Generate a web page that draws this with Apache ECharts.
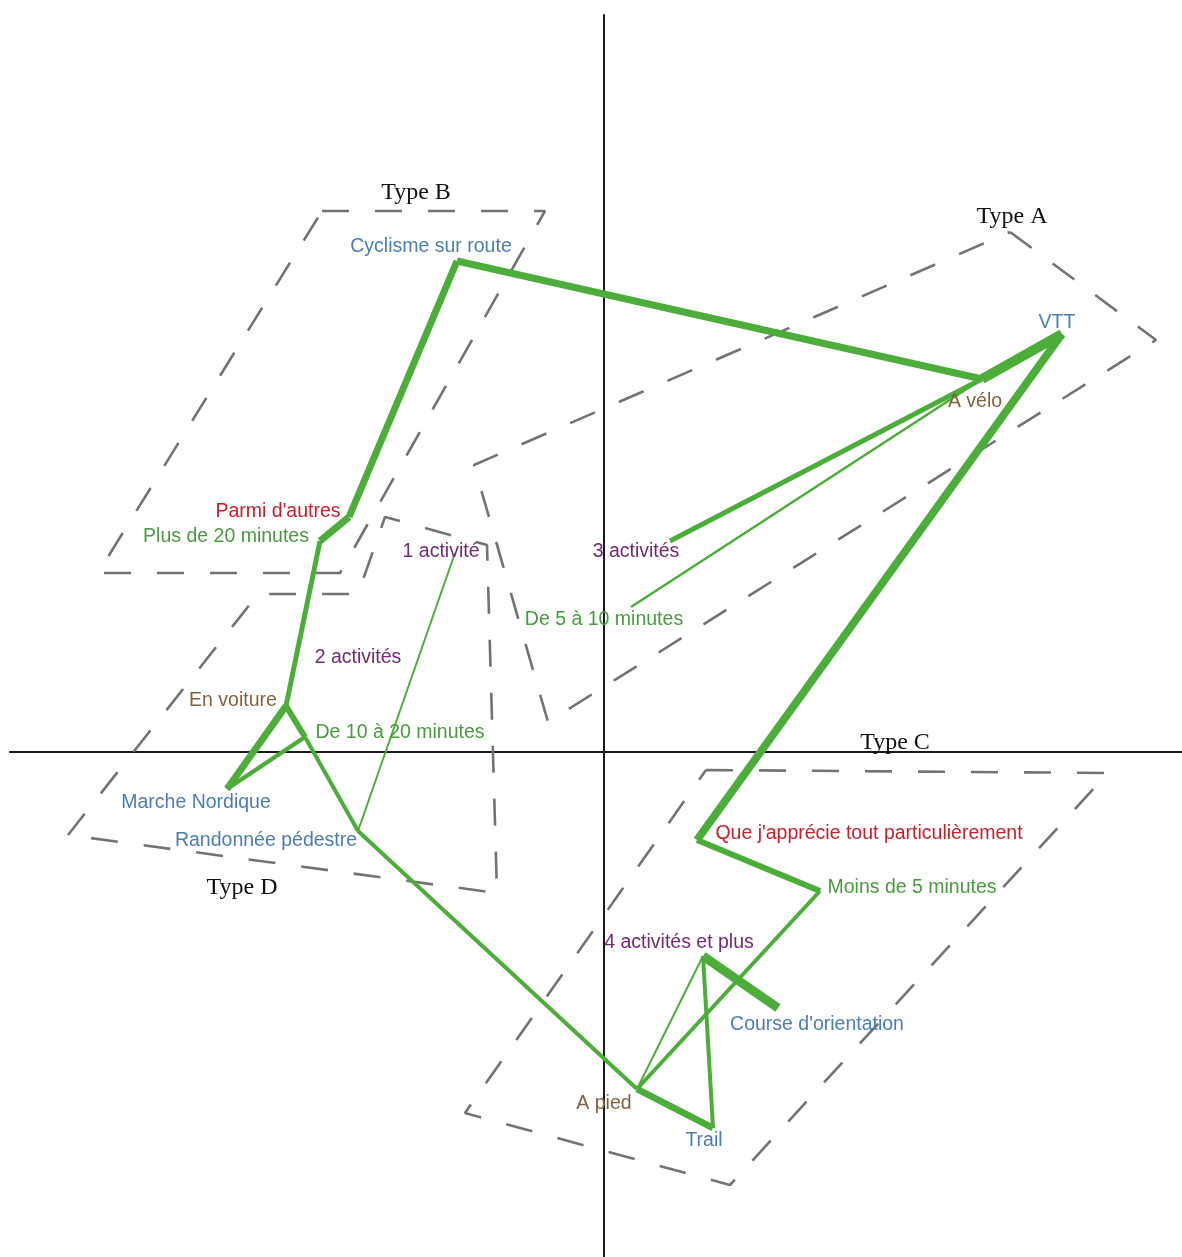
<!DOCTYPE html>
<html><head><meta charset="utf-8">
<script src="https://cdn.jsdelivr.net/npm/echarts@6/dist/echarts.min.js"></script>
<style>html,body{margin:0;padding:0;background:#fff}#c{width:1182px;height:1257px}</style>
</head><body><div id="c"></div>
<script>
// ---- Data (in factor-map units) ----
const nodeNames = [
  "Cyclisme sur route", "VTT", "A vélo", "3 activités", "De 5 à 10 minutes",
  "1 activité", "Parmi d'autres", "Plus de 20 minutes", "2 activités", "En voiture",
  "De 10 à 20 minutes", "Marche Nordique", "Randonnée pédestre",
  "Que j'apprécie tout particulièrement", "Moins de 5 minutes", "4 activités et plus",
  "Course d'orientation", "A pied", "Trail"
];
const nodeX = [-1.47, 4.58, 3.78, 0.66, 0.27, -1.49, -2.55, -2.84, -2.46, -3.18,
               -2.99, -3.77, -2.46, 0.93, 2.16, 0.99, 1.74, 0.33, 1.09];
const nodeY = [4.91, 4.18, 3.73, 2.11, 1.45, 1.99, 2.35, 2.11, 0.97, 0.46,
               0.15, -0.37, -0.79, -0.88, -1.39, -2.04, -2.56, -3.37, -3.76];
const nodeKind = ["activity", "activity", "mode", "count", "duration",
                  "count", "appreciation", "duration", "count", "mode",
                  "duration", "activity", "activity", "appreciation", "duration", "count",
                  "activity", "mode", "activity"];

const edgeFrom = ["Cyclisme sur route", "Cyclisme sur route", "Parmi d'autres", "Plus de 20 minutes",
  "En voiture", "En voiture", "Marche Nordique", "De 10 à 20 minutes", "Randonnée pédestre",
  "Randonnée pédestre", "A pied", "A pied", "A pied", "4 activités et plus", "4 activités et plus",
  "Moins de 5 minutes", "Que j'apprécie tout particulièrement", "VTT", "A vélo", "A vélo"];
const edgeTo = ["A vélo", "Parmi d'autres", "Plus de 20 minutes", "En voiture",
  "Marche Nordique", "De 10 à 20 minutes", "De 10 à 20 minutes", "Randonnée pédestre", "1 activité",
  "A pied", "Trail", "4 activités et plus", "Moins de 5 minutes", "Trail", "Course d'orientation",
  "Que j'apprécie tout particulièrement", "VTT", "A vélo", "3 activités", "De 5 à 10 minutes"];
const edgeStrength = [7, 7, 7, 5, 7, 6, 4.5, 4, 2, 4, 6.5, 2, 4, 4, 9, 6, 8, 10, 5, 2.5];

const typeNames = ["Type A", "Type B", "Type C", "Type D"];
const typeLabelX = [4.08, -1.88, 2.91, -3.62];
const typeLabelY = [5.35, 5.59, 0.09, -1.36];
const typeHullX = [
  [4.06, 5.52, -0.56, -1.30],
  [-2.82, -0.59, -2.64, -5.06],
  [1.02, 5.04, 1.26, -1.39],
  [-5.36, -3.46, -2.46, -2.19, -1.17, -1.07]
];
const typeHullY = [
  [5.20, 4.12, 0.30, 2.87],
  [5.41, 5.41, 1.79, 1.79],
  [-0.18, -0.21, -4.33, -3.61],
  [-0.83, 1.58, 1.58, 2.35, 2.07, -1.41]
];

// ---- Styles ----
const kindColor = {
  activity: "#4a7eb4", mode: "#86613f", appreciation: "#c4222a",
  duration: "#4a9a40", count: "#742a74"
};
const labelOffset = {
  "Cyclisme sur route": [-26, -14], "VTT": [-5, -11], "A vélo": [-7, 23],
  "3 activités": [-34, 11], "De 5 à 10 minutes": [-27, 13], "1 activité": [-14, -1],
  "Parmi d'autres": [-71, -5], "Plus de 20 minutes": [-94, -4], "2 activités": [0, 3],
  "En voiture": [-53, -5], "De 10 à 20 minutes": [95, -4], "Marche Nordique": [-31, 14],
  "Randonnée pédestre": [-92, 10], "Que j'apprécie tout particulièrement": [172, -6],
  "Moins de 5 minutes": [92, -3], "4 activités et plus": [-24, -13],
  "Course d'orientation": [39, 17], "A pied": [-33, 15], "Trail": [-9, 13]
};
const lineGreen = "#4cad3b";
const sansFont = "'Liberation Sans', Arial, Helvetica, sans-serif";
const serifFont = "'Liberation Serif', 'Times New Roman', serif";

// ---- Build ----
const idx = {};
nodeNames.forEach((n, i) => idx[n] = i);

const series = [];

typeNames.forEach((t, k) => {
  const pts = typeHullX[k].map((x, j) => [x, typeHullY[k][j]]);
  pts.push(pts[0]);
  series.push({
    type: "line", name: t, data: pts, symbol: "none", silent: true, z: 1,
    lineStyle: { color: "#737373", width: 2.6, type: [27, 26] }
  });
});

series.push({
  type: "lines", coordinateSystem: "cartesian2d", silent: true, z: 3,
  lineStyle: { color: lineGreen, opacity: 1, curveness: 0 },
  data: edgeFrom.map((f, i) => {
    const a = idx[f], b = idx[edgeTo[i]];
    return {
      coords: [[nodeX[a], nodeY[a]], [nodeX[b], nodeY[b]]],
      lineStyle: { width: edgeStrength[i], color: lineGreen, opacity: 1 }
    };
  })
});

series.push({
  type: "scatter", symbolSize: 0, silent: true, z: 4,
  itemStyle: { opacity: 1 },
  data: nodeNames.map((n, i) => ({
    value: [nodeX[i], nodeY[i]], name: n,
    itemStyle: { opacity: 1 },
    label: {
      show: true, position: "inside", formatter: n, offset: labelOffset[n], opacity: 1,
      color: kindColor[nodeKind[i]], fontSize: 19.5, fontFamily: sansFont
    }
  }))
});

series.push({
  type: "scatter", symbolSize: 0, silent: true, z: 4,
  itemStyle: { opacity: 1 },
  data: typeNames.map((t, i) => ({
    value: [typeLabelX[i], typeLabelY[i]], name: t,
    itemStyle: { opacity: 1 },
    label: {
      show: true, position: "inside", formatter: t, opacity: 1,
      color: "#111", fontSize: 24, fontFamily: serifFont
    }
  }))
});

const chart = echarts.init(document.getElementById("c"), null, { renderer: "canvas" });
chart.setOption({
  animation: false,
  backgroundColor: "#ffffff",
  grid: { left: 10, right: 0, top: 15, bottom: 0, containLabel: false },
  xAxis: {
    type: "value", min: -5.94, max: 5.78,
    axisLine: { show: true, onZero: true, lineStyle: { color: "#1a1a1a", width: 2 } },
    axisTick: { show: false }, axisLabel: { show: false }, splitLine: { show: false }
  },
  yAxis: {
    type: "value", min: -5.05, max: 7.37,
    axisLine: { show: true, onZero: true, lineStyle: { color: "#1a1a1a", width: 2 } },
    axisTick: { show: false }, axisLabel: { show: false }, splitLine: { show: false }
  },
  series: series
});
</script>
</body></html>
